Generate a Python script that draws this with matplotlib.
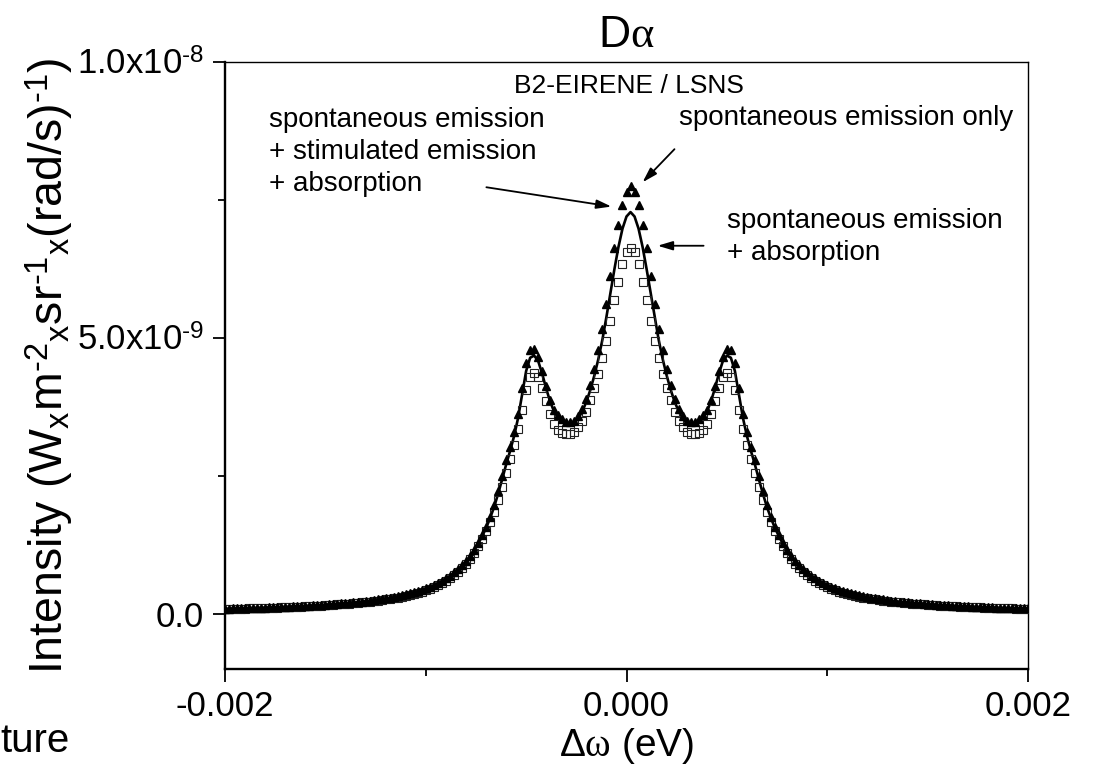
import numpy as np
import matplotlib
matplotlib.use('Agg')
import matplotlib.pyplot as plt
from matplotlib.ticker import FixedLocator, FixedFormatter

plt.rcParams['font.family'] = ['Liberation Sans', 'DejaVu Sans']
plt.rcParams['mathtext.fontset'] = 'custom'
plt.rcParams['mathtext.rm'] = 'Liberation Sans'
plt.rcParams['mathtext.it'] = 'Liberation Serif'
plt.rcParams['mathtext.bf'] = 'Liberation Sans:bold'
plt.rcParams['axes.unicode_minus'] = False

# detuning grid, -0.002 .. 0.002 eV in 2e-5 eV steps
d_omega = np.linspace(-0.002, 0.002, 201)

# intensities, in units of 1e-9 W m^-2 sr^-1 (rad/s)^-1
# spontaneous emission only (triangles)
spont_only = [
    0.092, 0.094, 0.096, 0.098, 0.100, 0.102, 0.104, 0.106, 0.108, 0.111,
    0.113, 0.116, 0.118, 0.121, 0.124, 0.127, 0.130, 0.134, 0.137, 0.140,
    0.144, 0.148, 0.152, 0.157, 0.161, 0.166, 0.171, 0.176, 0.182, 0.188,
    0.194, 0.200, 0.208, 0.215, 0.222, 0.230, 0.240, 0.250, 0.260, 0.270,
    0.280, 0.290, 0.305, 0.320, 0.335, 0.350, 0.370, 0.390, 0.410, 0.430,
    0.460, 0.490, 0.520, 0.560, 0.600, 0.640, 0.690, 0.750, 0.810, 0.880,
    0.960, 1.050, 1.160, 1.280, 1.420, 1.580, 1.760, 1.970, 2.220, 2.500,
    2.780, 3.020, 3.300, 3.620, 4.100, 4.550, 4.780, 4.800, 4.650, 4.400,
    4.120, 3.880, 3.700, 3.600, 3.530, 3.480, 3.470, 3.500, 3.580, 3.720,
    3.900, 4.140, 4.430, 4.780, 5.170, 5.620, 6.120, 6.620, 7.050, 7.400,
    7.650, 7.750,
    7.650, 7.400, 7.050, 6.620, 6.120, 5.620, 5.170, 4.780, 4.430, 4.140,
    3.900, 3.720, 3.580, 3.500, 3.470, 3.480, 3.530, 3.600, 3.700, 3.880,
    4.120, 4.400, 4.650, 4.800, 4.780, 4.550, 4.100, 3.620, 3.300, 3.020,
    2.780, 2.500, 2.220, 1.970, 1.760, 1.580, 1.420, 1.280, 1.160, 1.050,
    0.960, 0.880, 0.810, 0.750, 0.690, 0.640, 0.600, 0.560, 0.520, 0.490,
    0.460, 0.430, 0.410, 0.390, 0.370, 0.350, 0.335, 0.320, 0.305, 0.290,
    0.280, 0.270, 0.260, 0.250, 0.240, 0.230, 0.222, 0.215, 0.208, 0.200,
    0.194, 0.188, 0.182, 0.176, 0.171, 0.166, 0.161, 0.157, 0.152, 0.148,
    0.144, 0.140, 0.137, 0.134, 0.130, 0.127, 0.124, 0.121, 0.118, 0.116,
    0.113, 0.111, 0.108, 0.106, 0.104, 0.102, 0.100, 0.098, 0.096,
]

# spontaneous + stimulated emission + absorption (solid line)
spont_stim_abs = [
    0.090, 0.092, 0.094, 0.096, 0.098, 0.100, 0.102, 0.104, 0.106, 0.109,
    0.111, 0.114, 0.116, 0.119, 0.122, 0.125, 0.128, 0.131, 0.135, 0.138,
    0.141, 0.145, 0.149, 0.154, 0.158, 0.163, 0.168, 0.173, 0.178, 0.184,
    0.190, 0.196, 0.203, 0.210, 0.218, 0.226, 0.235, 0.245, 0.254, 0.264,
    0.274, 0.285, 0.299, 0.313, 0.328, 0.343, 0.360, 0.380, 0.400, 0.420,
    0.450, 0.480, 0.510, 0.550, 0.590, 0.630, 0.675, 0.730, 0.790, 0.860,
    0.940, 1.030, 1.140, 1.260, 1.400, 1.550, 1.730, 1.930, 2.170, 2.430,
    2.700, 2.950, 3.220, 3.550, 3.980, 4.400, 4.640, 4.680, 4.580, 4.350,
    4.080, 3.840, 3.660, 3.550, 3.470, 3.430, 3.420, 3.460, 3.540, 3.670,
    3.840, 4.060, 4.320, 4.620, 4.970, 5.380, 5.820, 6.250, 6.650, 6.980,
    7.200, 7.280,
    7.200, 6.980, 6.650, 6.250, 5.820, 5.380, 4.970, 4.620, 4.320, 4.060,
    3.840, 3.670, 3.540, 3.460, 3.420, 3.430, 3.470, 3.550, 3.660, 3.840,
    4.080, 4.350, 4.580, 4.680, 4.640, 4.400, 3.980, 3.550, 3.220, 2.950,
    2.700, 2.430, 2.170, 1.930, 1.730, 1.550, 1.400, 1.260, 1.140, 1.030,
    0.940, 0.860, 0.790, 0.730, 0.675, 0.630, 0.590, 0.550, 0.510, 0.480,
    0.450, 0.420, 0.400, 0.380, 0.360, 0.343, 0.328, 0.313, 0.299, 0.285,
    0.274, 0.264, 0.254, 0.245, 0.235, 0.226, 0.218, 0.210, 0.203, 0.196,
    0.190, 0.184, 0.178, 0.173, 0.168, 0.163, 0.158, 0.154, 0.149, 0.145,
    0.141, 0.138, 0.135, 0.131, 0.128, 0.125, 0.122, 0.119, 0.116, 0.114,
    0.111, 0.109, 0.106, 0.104, 0.102, 0.100, 0.098, 0.096, 0.094,
]

# spontaneous emission + absorption (open squares)
spont_abs = [
    0.086, 0.088, 0.090, 0.091, 0.093, 0.095, 0.097, 0.099, 0.101, 0.103,
    0.106, 0.108, 0.110, 0.113, 0.116, 0.118, 0.121, 0.124, 0.128, 0.131,
    0.134, 0.138, 0.142, 0.146, 0.150, 0.154, 0.159, 0.164, 0.169, 0.174,
    0.180, 0.186, 0.192, 0.199, 0.206, 0.214, 0.222, 0.230, 0.240, 0.250,
    0.260, 0.270, 0.282, 0.295, 0.310, 0.325, 0.340, 0.360, 0.380, 0.400,
    0.425, 0.455, 0.485, 0.520, 0.560, 0.600, 0.645, 0.700, 0.760, 0.830,
    0.910, 1.000, 1.100, 1.220, 1.350, 1.500, 1.660, 1.850, 2.060, 2.300,
    2.550, 2.800, 3.050, 3.350, 3.700, 4.050, 4.300, 4.370, 4.300, 4.100,
    3.850, 3.620, 3.440, 3.330, 3.270, 3.250, 3.260, 3.300, 3.380, 3.500,
    3.660, 3.870, 4.100, 4.350, 4.630, 4.950, 5.300, 5.680, 6.020, 6.330,
    6.550, 6.620,
    6.550, 6.330, 6.020, 5.680, 5.300, 4.950, 4.630, 4.350, 4.100, 3.870,
    3.660, 3.500, 3.380, 3.300, 3.260, 3.250, 3.270, 3.330, 3.440, 3.620,
    3.850, 4.100, 4.300, 4.370, 4.300, 4.050, 3.700, 3.350, 3.050, 2.800,
    2.550, 2.300, 2.060, 1.850, 1.660, 1.500, 1.350, 1.220, 1.100, 1.000,
    0.910, 0.830, 0.760, 0.700, 0.645, 0.600, 0.560, 0.520, 0.485, 0.455,
    0.425, 0.400, 0.380, 0.360, 0.340, 0.325, 0.310, 0.295, 0.282, 0.270,
    0.260, 0.250, 0.240, 0.230, 0.222, 0.214, 0.206, 0.199, 0.192, 0.186,
    0.180, 0.174, 0.169, 0.164, 0.159, 0.154, 0.150, 0.146, 0.142, 0.138,
    0.134, 0.131, 0.128, 0.124, 0.121, 0.118, 0.116, 0.113, 0.110, 0.108,
    0.106, 0.103, 0.101, 0.099, 0.097, 0.095, 0.093, 0.091, 0.090,
]

xticks = [-0.002, 0.0, 0.002]
xtick_labels = ['-0.002', '0.000', '0.002']
xminor = [-0.001, 0.001]
yticks = [0.0, 5.0e-9, 1.0e-8]
ytick_labels = ['0.0', r'5.0x10$^{\text{-9}}$', r'1.0x10$^{\text{-8}}$']
yminor = [2.5e-9, 7.5e-9]

left_note = ['spontaneous emission', '+ stimulated emission', '+ absorption']
right_note = ['spontaneous emission', '+ absorption']

scale = 1e-9

fig = plt.figure(figsize=(10.95, 7.7), dpi=100)
ax = fig.add_axes([0.2055, 0.1312, 0.7333, 0.7883])

ax.plot(d_omega, np.array(spont_stim_abs) * scale, 'k-', lw=1.9, zorder=2)
ax.plot(d_omega, np.array(spont_abs) * scale, 's', ms=5.3, mfc='none',
        mec='#222222', mew=0.8, zorder=3)
ax.plot(d_omega, np.array(spont_only) * scale, '^', ms=6.2, color='k',
        mec='k', zorder=4)

ax.set_xlim(-0.002, 0.002)
ax.set_ylim(-1.0e-9, 1.0e-8)

ax.xaxis.set_major_locator(FixedLocator(xticks))
ax.xaxis.set_major_formatter(FixedFormatter(xtick_labels))
ax.xaxis.set_minor_locator(FixedLocator(xminor))
ax.yaxis.set_major_locator(FixedLocator(yticks))
ax.yaxis.set_major_formatter(FixedFormatter(ytick_labels))
ax.yaxis.set_minor_locator(FixedLocator(yminor))

ax.tick_params(which='major', direction='out', length=9, width=1.3,
               labelsize=25, pad=6, top=False, right=False)
ax.tick_params(which='minor', direction='out', length=5, width=1.3,
               top=False, right=False)

for side in ['left', 'bottom']:
    ax.spines[side].set_linewidth(1.7)
for side in ['top', 'right']:
    ax.spines[side].set_linewidth(1.0)

ax.set_title(r'D$\alpha$', fontsize=32, pad=11)
ax.set_xlabel(r'$\Delta\omega$ (eV)', fontsize=28, labelpad=2)
ax.set_ylabel(r'Intensity (W$_{\rm x}$m$^{\text{-2}}$$_{\rm x}$sr$^{\text{-1}}$$_{\rm x}$(rad/s)$^{\text{-1}}$)',
              fontsize=33.5)
ax.yaxis.set_label_coords(-0.186, 0.50)

ax.text(0.503, 0.949, 'B2-EIRENE / LSNS', transform=ax.transAxes,
        ha='center', va='baseline', fontsize=19)

# one text per line, 32 px apart
step = 32 / 607
for i, line in enumerate(left_note):
    ax.text(0.0548, 0.893 - i * step, line, transform=ax.transAxes,
            ha='left', va='baseline', fontsize=20)
ax.text(0.5654, 0.896, 'spontaneous emission only', transform=ax.transAxes,
        ha='left', va='baseline', fontsize=20)
for i, line in enumerate(right_note):
    ax.text(0.625, 0.7265 - i * step, line, transform=ax.transAxes,
            ha='left', va='baseline', fontsize=20)

arrow = dict(arrowstyle='-|>,head_length=0.6,head_width=0.18', color='k',
             lw=1.3, mutation_scale=15, shrinkA=0, shrinkB=0)
ax.annotate('', xy=(0.00008, 7.82e-9), xytext=(0.000239, 8.42e-9), arrowprops=arrow)
ax.annotate('', xy=(-0.000075, 7.38e-9), xytext=(-0.000698, 7.73e-9), arrowprops=arrow)
ax.annotate('', xy=(0.000155, 6.67e-9), xytext=(0.000384, 6.67e-9), arrowprops=arrow)

fig.text(0.0, 0.0234, 'ture', fontsize=29, ha='left', va='baseline')

fig.savefig('out.png', dpi=100)
